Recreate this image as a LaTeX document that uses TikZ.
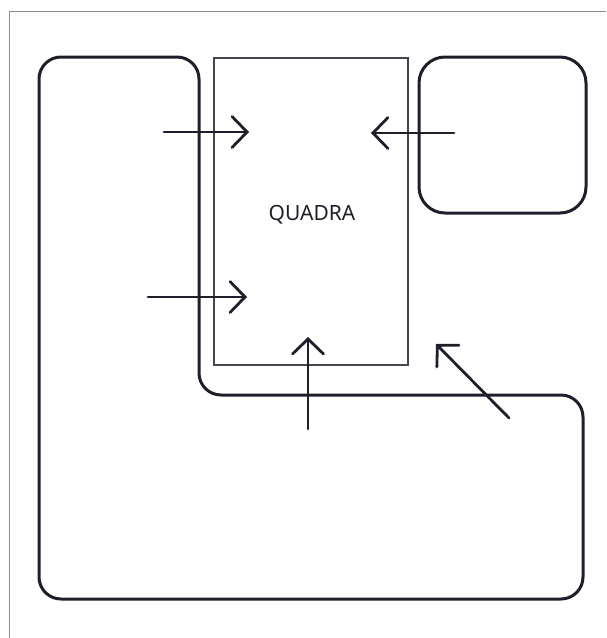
\documentclass[tikz,border=0pt]{standalone}
\usepackage{fontspec}
\usetikzlibrary{arrows.meta}
\newfontfamily\plantafont{Noto Sans}
\definecolor{plantaInk}{HTML}{1F1F2B}
\definecolor{plantaGrey}{HTML}{45454F}
\definecolor{plantaFrame}{HTML}{8C8C8C}

\begin{document}
\begin{tikzpicture}[
    x=1pt, y=-1pt,
    planta wall/.style={draw=plantaInk, line width=3pt, line cap=round, line join=round, rounded corners=22pt},
    planta court/.style={draw=plantaGrey, line width=1.5pt, minimum width=194pt, minimum height=307pt, inner sep=0pt, anchor=north west},
    planta flow/.style={draw=plantaInk, line width=2.8pt, line cap=round, -{Straight Barb[length=15pt, width=31pt, line cap=round]}},
    planta frame/.style={draw=plantaFrame, line width=1pt},
    planta name/.style={text=plantaInk, font=\plantafont\fontsize{21}{25}\selectfont, inner sep=0pt},
]
  \useasboundingbox (0,0) rectangle (606,638);

  % Moldura.
  \draw[planta frame] (606,11) -- (9,11) -- (9,638);

  % Blocos.
  \draw[planta wall] (39,57) -- (199,57) -- (199,395) -- (583,395) -- (583,599) -- (39,599) -- cycle;
  \draw[planta wall, rounded corners=26pt] (419,57) rectangle (586,213);

  % Quadra.
  \node[planta court] (quadra) at (213,57) {};
  \node[planta name] (quadra-nome) at (312,215) {QUADRA};

  % Acessos.
  \coordinate (a-1) at (164,132);
  \coordinate (b-1) at (249,132);
  \coordinate (a-2) at (454,133);
  \coordinate (b-2) at (371,133);
  \coordinate (a-3) at (148,297);
  \coordinate (b-3) at (247,297);
  \coordinate (a-4) at (308,429);
  \coordinate (b-4) at (308,337);
  \coordinate (a-5) at (509,418);
  \coordinate (b-5) at (436,344);

  \draw[planta flow] (a-1) -- (b-1);
  \draw[planta flow] (a-2) -- (b-2);
  \draw[planta flow] (a-3) -- (b-3);
  \draw[planta flow] (a-4) -- (b-4);
  \draw[planta flow] (a-5) -- (b-5);
\end{tikzpicture}
\end{document}
